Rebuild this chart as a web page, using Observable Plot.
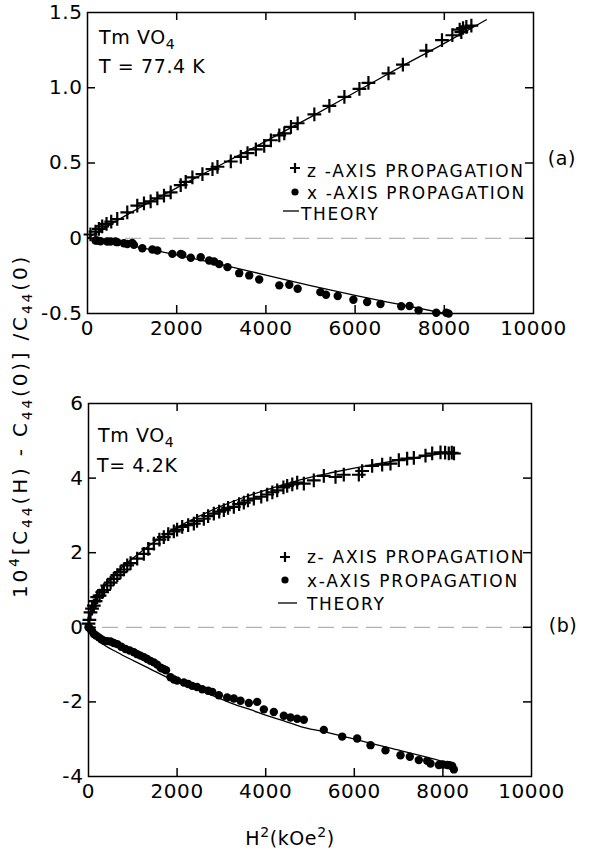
<!DOCTYPE html>
<html><head><meta charset="utf-8">
<script src="https://cdn.jsdelivr.net/npm/d3@7"></script>
<script src="https://cdn.jsdelivr.net/npm/@observablehq/plot@0.6"></script>
<style>
body{margin:0;background:#fff;}
#root{position:relative;width:592px;height:850px;font-family:"DejaVu Sans",sans-serif;color:#000;overflow:hidden;background:#fff}
#root svg{position:absolute;left:0}
</style></head><body><div id="root"></div>
<script>
// ---------- data (H^2 in kOe^2, value) ----------
const xTicks = [0, 2000, 4000, 6000, 8000, 10000];
const xTicksInner = [2000, 4000, 6000, 8000];
const yTicksA = [-0.5, 0, 0.5, 1.0, 1.5];
const yTicksAInner = [0, 0.5, 1.0];
const yTicksB = [-4, -2, 0, 2, 4, 6];
const yTicksBInner = [-2, 0, 2, 4];

// Panel (a) T = 77.4 K
const zA = [[67,0.025],[180,0.044],[255,0.062],[330,0.079],[427,0.095],[532,0.111],[667,0.128],[892,0.172],[1116,0.217],[1266,0.232],[1416,0.245],[1566,0.265],[1715,0.283],[1865,0.305],[2090,0.353],[2202,0.375],[2352,0.404],[2577,0.426],[2802,0.459],[2914,0.475],[3213,0.51],[3438,0.541],[3588,0.565],[3775,0.591],[3962,0.614],[4112,0.651],[4300,0.684],[4412,0.697],[4562,0.74],[4712,0.764],[5086,0.823],[5423,0.879],[5760,0.94],[6097,0.993],[6299,1.033],[6749,1.095],[7071,1.154],[7596,1.247],[7948,1.316],[8180,1.349],[8345,1.386],[8420,1.397],[8494,1.404],[8607,1.413],[8382,1.369]];
const xA = [[180,-0.015],[292,-0.02],[517,-0.022],[667,-0.026],[892,-0.038],[1041,-0.044],[1229,-0.066],[1454,-0.075],[217,-0.015],[442,-0.022],[629,-0.022],[816,-0.033],[1004,-0.031],[1566,-0.081],[1903,-0.104],[2090,-0.104],[2127,-0.11],[2315,-0.13],[2539,-0.126],[2727,-0.148],[2839,-0.154],[2952,-0.172],[3139,-0.192],[3401,-0.232],[3626,-0.247],[3850,-0.274],[4300,-0.313],[4524,-0.309],[4712,-0.336],[5221,-0.358],[5348,-0.375],[5610,-0.384],[5962,-0.409],[6270,-0.424],[6569,-0.437],[7034,-0.452],[7221,-0.45],[7423,-0.479],[7820,-0.495],[8045,-0.495],[8097,-0.501]];
const thZA = [[0,0],[1000,0.175],[2000,0.335],[3000,0.49],[4000,0.645],[5000,0.805],[6000,0.97],[7000,1.135],[8000,1.295],[8944,1.452]];
const thXA = [[0,0],[500,-0.02],[1000,-0.05],[2000,-0.11],[3000,-0.175],[4000,-0.245],[5000,-0.315],[6000,-0.38],[7000,-0.44],[8100,-0.505]];

// Panel (b) T = 4.2 K
const zB = [[0,0.1],[20,0.2],[45,0.40],[80,0.5],[120,0.58],[160,0.7],[196,0.81],[250,0.85],[309,0.94],[350,1.0],[422,1.12],[500,1.2],[571,1.30],[650,1.4],[722,1.48],[800,1.55],[874,1.66],[950,1.72],[1099,1.84],[1249,1.97],[1350,2.1],[1475,2.24],[1600,2.35],[1700,2.42],[1800,2.5],[1926,2.57],[2000,2.62],[2115,2.69],[2250,2.74],[2378,2.78],[2450,2.85],[2603,2.91],[2700,2.98],[2829,3.05],[2950,3.1],[3055,3.14],[3150,3.2],[3281,3.23],[3400,3.3],[3506,3.34],[3600,3.4],[3732,3.45],[3900,3.5],[4034,3.56],[4150,3.62],[4260,3.67],[4400,3.75],[4485,3.79],[4600,3.83],[4711,3.88],[4861,3.85],[5086,3.94],[5312,4.06],[5576,4.03],[5763,4.09],[6102,4.09],[6177,4.19],[6403,4.33],[6629,4.36],[6817,4.39],[7005,4.48],[7193,4.52],[7344,4.54],[7607,4.60],[7758,4.66],[7946,4.69],[8050,4.68],[8133,4.66],[8200,4.68],[8250,4.66]];
const xB = [[0,0],[45,-0.05],[80,-0.1],[120,-0.18],[170,-0.22],[233,-0.27],[290,-0.32],[346,-0.36],[420,-0.37],[497,-0.38],[570,-0.42],[647,-0.45],[740,-0.52],[835,-0.58],[930,-0.62],[1023,-0.67],[1100,-0.72],[1174,-0.76],[1250,-0.8],[1324,-0.85],[1400,-0.9],[1475,-0.94],[1550,-1.0],[1625,-1.08],[1650,-1.1],[1700,-1.12],[1750,-1.15],[1851,-1.34],[1930,-1.4],[2002,-1.43],[2152,-1.48],[2250,-1.52],[2340,-1.57],[2450,-1.6],[2566,-1.66],[2700,-1.7],[2792,-1.73],[2942,-1.82],[3130,-1.88],[3280,-1.91],[3431,-1.97],[3619,-2.03],[3807,-2.00],[3958,-2.20],[4183,-2.27],[4409,-2.37],[4560,-2.42],[4711,-2.45],[4861,-2.48],[5312,-2.75],[5726,-2.93],[6065,-2.98],[6366,-3.16],[6704,-3.30],[7043,-3.43],[7253,-3.47],[7456,-3.56],[7645,-3.58],[7720,-3.65],[7908,-3.69],[8000,-3.68],[8097,-3.69],[8150,-3.7],[8209,-3.72],[8247,-3.81]];
const thZB = [[0,0],[50,0.35],[150,0.7],[300,1.0],[500,1.3],[750,1.6],[1000,1.85],[1500,2.3],[2000,2.68],[2500,2.98],[3000,3.25],[3500,3.48],[4000,3.68],[4500,3.86],[5000,4.02],[5500,4.15],[6000,4.27],[6500,4.38],[7000,4.48],[7500,4.57],[8200,4.7]];
const thXB = [[0,0],[100,-0.2],[271,-0.40],[647,-0.67],[1023,-0.90],[1399,-1.12],[1775,-1.34],[2152,-1.52],[2528,-1.70],[2904,-1.88],[3280,-2.06],[3657,-2.21],[4033,-2.37],[4409,-2.51],[4786,-2.66],[5312,-2.80],[6065,-3.02],[6817,-3.24],[7569,-3.46],[8097,-3.63]];

const FONT = "DejaVu Sans, sans-serif";
const fmtA = d => d === 0 ? "0" : (d < 0 ? "-" : "") + Math.abs(d).toFixed(1);
const fmtB = d => (d < 0 ? "-" : "") + Math.abs(d);

function panel(o) {
  const innerH = o.height - o.mT - o.mB, innerW = o.width - o.mL - o.mR;
  const X = d => d[0], Y = d => d[1];
  const svg = Plot.plot({
    width: o.width, height: o.height,
    marginLeft: o.mL, marginRight: o.mR, marginTop: o.mT, marginBottom: o.mB,
    style: {fontFamily: FONT, fontSize: "20px", color: "#000", background: "transparent", overflow: "visible", letterSpacing: "0.6px"},
    x: {domain: [0, 10000]},
    y: {domain: o.yDomain},
    marks: [
      Plot.ruleY([0], {stroke: "#a0a0a0", strokeWidth: 1, strokeDasharray: "16,8", insetLeft: 14, insetRight: 2}),
      Plot.line(o.thZ, {x: X, y: Y, stroke: "#000", strokeWidth: 1.3, curve: "monotone-x"}),
      Plot.line(o.thX, {x: X, y: Y, stroke: "#000", strokeWidth: 1.3, curve: "monotone-x"}),
      Plot.dot(o.z, {x: X, y: Y, symbol: "plus", r: 4.5, stroke: "#000", strokeWidth: 2.2}),
      Plot.dot(o.xd, {x: X, y: Y, r: 4.2, fill: "#000", stroke: "none"}),
      Plot.frame({stroke: "#000", strokeWidth: 1.5}),
      Plot.ruleX(xTicksInner, {x: d => d, insetTop: innerH - 8, stroke: "#000", strokeWidth: 1.5}),
      Plot.ruleX(xTicksInner, {x: d => d, insetBottom: innerH - 8, stroke: "#000", strokeWidth: 1.5}),
      Plot.ruleY(o.yInner, {y: d => d, insetRight: innerW - 8, stroke: "#000", strokeWidth: 1.5}),
      Plot.ruleY(o.yInner, {y: d => d, insetLeft: innerW - 8, stroke: "#000", strokeWidth: 1.5}),
      Plot.axisX(xTicks, {tickSize: 0, tickPadding: 7, label: null, tickFormat: d => String(d)}),
      Plot.axisY(o.yTicks, {tickSize: 0, tickPadding: 5, label: null, tickFormat: o.fmt})
    ]
  });
  svg.style.top = o.top + "px";
  return svg;
}

const root = document.getElementById("root");
root.appendChild(panel({top: 0, width: 592, height: 340, mL: 87, mR: 59, mT: 12, mB: 27,
  yDomain: [-0.5, 1.5], yTicks: yTicksA, yInner: yTicksAInner, fmt: fmtA,
  z: zA, xd: xA, thZ: thZA, thX: thXA}));
root.appendChild(panel({top: 395, width: 592, height: 420, mL: 88, mR: 61, mT: 8, mB: 39,
  yDomain: [-4, 6], yTicks: yTicksB, yInner: yTicksBInner, fmt: fmtB,
  z: zB, xd: xB, thZ: thZB, thX: thXB}));

// ---------- annotations ----------
const sub = (t) => `<tspan dy="5" font-size="14">${t}</tspan><tspan dy="-5">`;
const sup = (t) => `<tspan dy="-8" font-size="14">${t}</tspan><tspan dy="8">`;
const ns = "http://www.w3.org/2000/svg";
const ov = document.createElementNS(ns, "svg");
ov.setAttribute("width", 592); ov.setAttribute("height", 850);
ov.style.top = "0px";
ov.setAttribute("font-family", FONT);
ov.setAttribute("font-size", "19");
ov.setAttribute("letter-spacing", "0.6");
const plus = (cx, cy) => `<path d="M${cx-5},${cy}H${cx+5}M${cx},${cy-5}V${cy+5}" stroke="#000" stroke-width="2.2"/>`;
ov.innerHTML = `
<text x="99" y="44">Tm VO${sub("4")}</tspan></text>
<text x="99" y="73">T = 77.4 K</text>
<g font-size="17" letter-spacing="1.7">
${plus(295,168)}
<text x="307" y="177">z -AXIS PROPAGATION</text>
<circle cx="295" cy="192" r="3.6" fill="#000"/>
<text x="307" y="199">x -AXIS PROPAGATION</text>
<line x1="283" x2="299" y1="211" y2="211" stroke="#000" stroke-width="1.3"/>
<text x="301" y="220">THEORY</text>
</g>
<text x="562" y="165" text-anchor="middle">(a)</text>

<text x="98" y="442">Tm VO${sub("4")}</tspan></text>
<text x="97" y="472">T= 4.2K</text>
<g font-size="17" letter-spacing="1.7">
${plus(285,557)}
<text x="307" y="563">z- AXIS PROPAGATION</text>
<circle cx="285" cy="580" r="3.6" fill="#000"/>
<text x="307" y="587">x-AXIS PROPAGATION</text>
<line x1="278" x2="297" y1="603" y2="603" stroke="#000" stroke-width="1.3"/>
<text x="307" y="610">THEORY</text>
</g>
<text x="563" y="632" text-anchor="middle">(b)</text>

<text transform="translate(27,426) rotate(-90)" text-anchor="middle" font-size="20" letter-spacing="2.8">10${sup("4")}[C${sub("44")}(H) - C${sub("44")}(0)] /C${sub("44")}(0)</tspan></tspan></tspan></tspan></text>
<text x="290" y="845" text-anchor="middle">H${sup("2")}(kOe${sup("2")})</tspan></tspan></text>
`;
root.appendChild(ov);
</script></body></html>
